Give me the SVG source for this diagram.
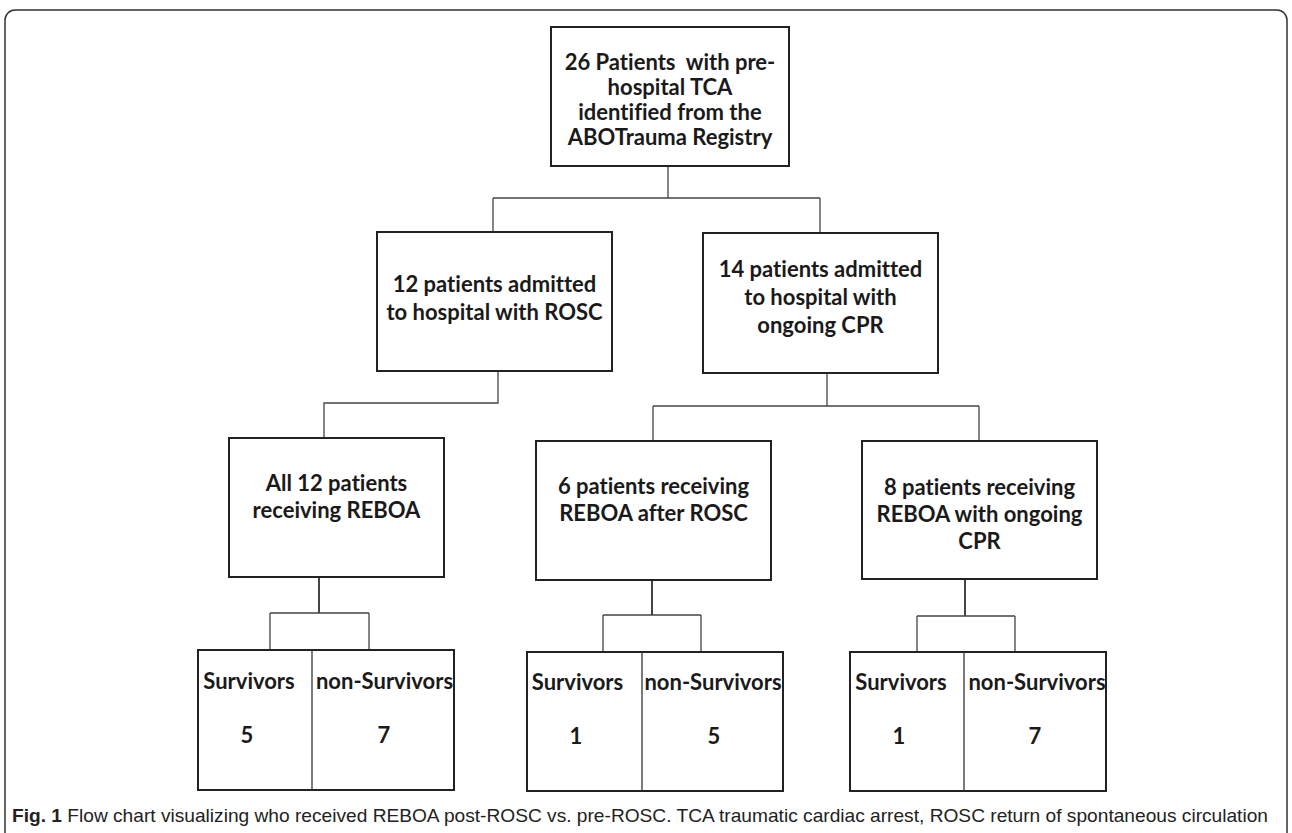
<svg xmlns="http://www.w3.org/2000/svg" width="1292" height="833" viewBox="0 0 1292 833">
<style>
.box{fill:#fff;stroke:#222;stroke-width:2}
.div{stroke:#333;stroke-width:1.3}
.con{fill:none;stroke:#444;stroke-width:1.3}
.con2{fill:none;stroke:#444;stroke-width:2}
.t{font-family:Lato,"Liberation Sans",sans-serif;font-weight:bold;font-size:22px;fill:#1a1a1a;text-anchor:middle;white-space:pre;font-variant-ligatures:none}
.cap{font-family:"Liberation Sans",Arial,sans-serif;font-size:19px;fill:#222}
</style>
<rect x="5" y="10" width="1282" height="840" rx="10" ry="10" fill="#fff" stroke="#333" stroke-width="1.5"/>
<g id="connectors">
<path class="con" d="M668 166V198M493 198H820M493 198V233M820 198V233"/>
<path class="con" d="M498 371V403H324V438"/>
<path class="con" d="M827 373V406M653 406H979M653 406V441M979 406V441"/>
<path class="con2" d="M319 577V613"/><path class="con" d="M270 613H369M270 613V650M369 613V650"/>
<path class="con2" d="M652 580V615"/><path class="con" d="M603 615H701M603 615V652M701 615V652"/>
<path class="con2" d="M965 579V616"/><path class="con" d="M917 616H1015M917 616V652M1015 616V652"/>
</g>
<g id="n-top">
<rect class="box" x="551" y="27" width="238" height="139"/>
<text class="t" x="670" y="70" xml:space="preserve">26 Patients  with pre-</text>
<text class="t" x="670" y="95">hospital TCA</text>
<text class="t" x="670" y="120">identified from the</text>
<text class="t" x="670" y="145">ABOTrauma Registry</text>
</g>
<g id="n-rosc">
<rect class="box" x="377" y="232" width="235" height="139"/>
<text class="t" x="494.5" y="292">12 patients admitted</text>
<text class="t" x="494.5" y="320">to hospital with ROSC</text>
</g>
<g id="n-cpr">
<rect class="box" x="703" y="233" width="235" height="140"/>
<text class="t" x="820.5" y="277">14 patients admitted</text>
<text class="t" x="820.5" y="305">to hospital with</text>
<text class="t" x="820.5" y="333">ongoing CPR</text>
</g>
<g id="n-all12">
<rect class="box" x="229" y="438" width="215" height="139"/>
<text class="t" x="336.5" y="491">All 12 patients</text>
<text class="t" x="336.5" y="518">receiving REBOA</text>
</g>
<g id="n-after">
<rect class="box" x="536" y="441" width="235" height="139"/>
<text class="t" x="653.5" y="494">6 patients receiving</text>
<text class="t" x="653.5" y="521">REBOA after ROSC</text>
</g>
<g id="n-ongoing">
<rect class="box" x="862" y="441" width="235" height="138"/>
<text class="t" x="979.5" y="495">8 patients receiving</text>
<text class="t" x="979.5" y="522">REBOA with ongoing</text>
<text class="t" x="979.5" y="549">CPR</text>
</g>
<g id="n-out1">
<rect class="box" x="198" y="650" width="256" height="140"/>
<line class="div" x1="312" y1="650" x2="312" y2="790"/>
<text class="t" x="249" y="689">Survivors</text>
<text class="t" x="247" y="743">5</text>
<text class="t" x="384.5" y="689">non-Survivors</text>
<text class="t" x="384" y="743">7</text>
</g>
<g id="n-out2">
<rect class="box" x="527" y="652" width="256" height="139"/>
<line class="div" x1="642" y1="652" x2="642" y2="791"/>
<text class="t" x="577.5" y="690">Survivors</text>
<text class="t" x="576" y="744">1</text>
<text class="t" x="713" y="690">non-Survivors</text>
<text class="t" x="714" y="744">5</text>
</g>
<g id="n-out3">
<rect class="box" x="850" y="652" width="256" height="139"/>
<line class="div" x1="964" y1="652" x2="964" y2="791"/>
<text class="t" x="901" y="690">Survivors</text>
<text class="t" x="899" y="744">1</text>
<text class="t" x="1037" y="690">non-Survivors</text>
<text class="t" x="1035" y="744">7</text>
</g>
<text class="cap" x="12" y="822" textLength="1256" lengthAdjust="spacingAndGlyphs"><tspan font-weight="bold">Fig. 1</tspan> Flow chart visualizing who received REBOA post-ROSC vs. pre-ROSC. TCA traumatic cardiac arrest, ROSC return of spontaneous circulation</text>
</svg>
